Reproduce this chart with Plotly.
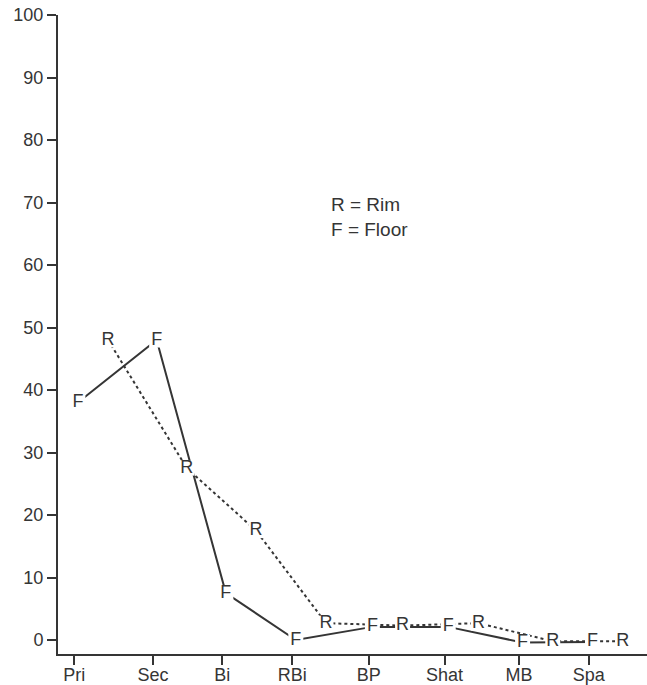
import plotly.graph_objects as go

categories = ["Pri", "Sec", "Bi", "RBi", "BP", "Shat", "MB", "Spa"]
cat_pos = [0, 1.07, 2.01, 2.96, 4.0, 5.03, 6.04, 6.99]
floor_vals = [38, 48, 7.5, 0, 2.1, 2.1, -0.4, -0.3]
rim_vals = [48, 27.5, 17.5, 2.7, 2.3, 2.7, -0.2, -0.2]
y_ticks = [0, 10, 20, 30, 40, 50, 60, 70, 80, 90, 100]

F_OFF = 0.05
R_OFF = 0.46
INK = "#353535"
FONT = "Liberation Sans, Arial, sans-serif"

fx = [p + F_OFF for p in cat_pos]
rx = [p + R_OFF for p in cat_pos]

fig = go.Figure()
fig.add_trace(go.Scatter(x=fx, y=floor_vals, mode="lines",
                         line=dict(color=INK, width=2), showlegend=False, hoverinfo="skip"))
fig.add_trace(go.Scatter(x=rx, y=rim_vals, mode="lines",
                         line=dict(color=INK, width=2, dash="dot"), showlegend=False, hoverinfo="skip"))
for xs, ys, letter in [(fx, floor_vals, "F"), (rx, rim_vals, "R")]:
    fig.add_trace(go.Scatter(
        x=xs, y=ys, mode="markers+text", text=[letter] * len(xs),
        textposition="middle center",
        textfont=dict(family=FONT, size=18, color=INK),
        marker=dict(symbol="square", size=15, color="white", line=dict(width=0)),
        cliponaxis=False, showlegend=False, hoverinfo="skip"))

fig.add_annotation(x=0.46, y=0.703, xref="paper", yref="paper", xanchor="left", yanchor="middle",
                   text="R = Rim", showarrow=False, font=dict(family=FONT, size=19, color=INK))
fig.add_annotation(x=0.46, y=0.664, xref="paper", yref="paper", xanchor="left", yanchor="middle",
                   text="F = Floor", showarrow=False, font=dict(family=FONT, size=19, color=INK))

fig.update_layout(
    width=647, height=685,
    margin=dict(l=58, r=0, t=15, b=31),
    paper_bgcolor="white", plot_bgcolor="white",
    font=dict(family=FONT, size=18, color=INK),
    xaxis=dict(range=[-0.22, 7.78], tickmode="array", tickvals=cat_pos, ticktext=categories,
               showgrid=False, zeroline=False, showline=True, linecolor=INK, linewidth=2,
               ticks="outside", ticklen=9, tickwidth=2, tickcolor=INK, automargin=False,
               ticklabelstandoff=-6, tickfont=dict(family=FONT, size=18, color=INK)),
    yaxis=dict(range=[-2.24, 100], tickmode="array", tickvals=y_ticks,
               showgrid=False, zeroline=False, showline=True, linecolor=INK, linewidth=2,
               ticks="outside", ticklen=9, tickwidth=2, tickcolor=INK, automargin=False,
               tickfont=dict(family=FONT, size=18, color=INK)),
)

fig.write_html("out.html")
